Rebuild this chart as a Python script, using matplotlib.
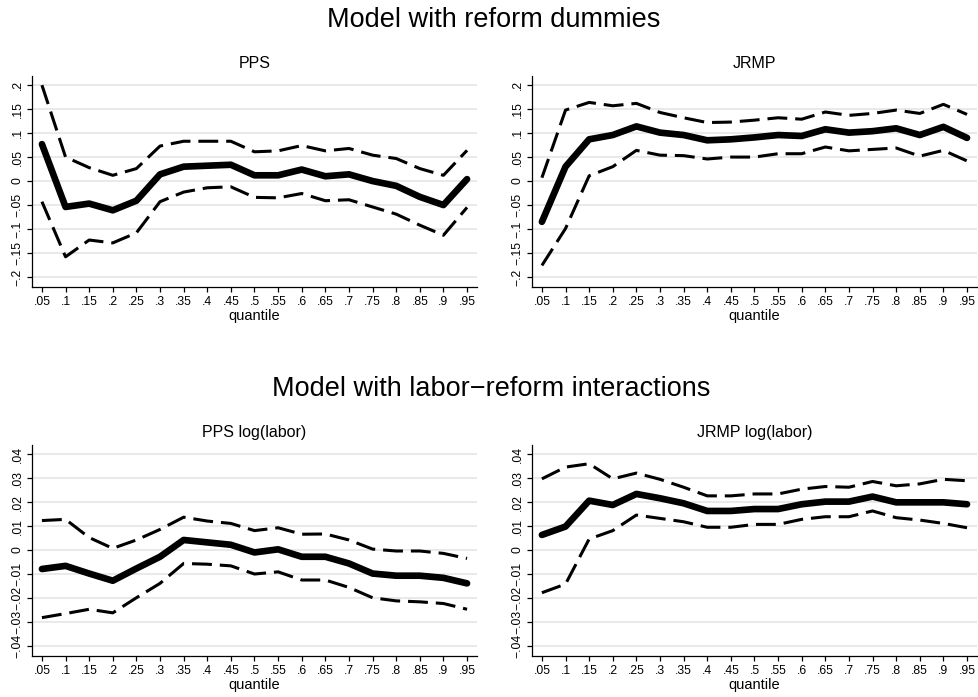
import matplotlib.pyplot as plt
from matplotlib.ticker import FuncFormatter

plt.rcParams['font.family'] = ['Liberation Sans', 'DejaVu Sans']

quantiles = [.05, .10, .15, .20, .25, .30, .35, .40, .45, .50,
             .55, .60, .65, .70, .75, .80, .85, .90, .95]
xtick_labels = ['.05', '.1', '.15', '.2', '.25', '.3', '.35', '.4', '.45', '.5',
                '.55', '.6', '.65', '.7', '.75', '.8', '.85', '.9', '.95']

# reform dummies: coefficient, upper and lower 95% bounds
pps_coef = [0.077, -0.054, -0.047, -0.061, -0.041, 0.014, 0.030, 0.032, 0.034, 0.012,
            0.012, 0.024, 0.010, 0.014, 0.000, -0.010, -0.033, -0.050, 0.004]
pps_hi = [0.200, 0.050, 0.028, 0.012, 0.026, 0.073, 0.083, 0.083, 0.083, 0.061,
          0.063, 0.074, 0.063, 0.068, 0.054, 0.047, 0.026, 0.012, 0.064]
pps_lo = [-0.043, -0.158, -0.123, -0.129, -0.108, -0.043, -0.023, -0.014, -0.012, -0.034,
          -0.035, -0.026, -0.041, -0.039, -0.054, -0.069, -0.092, -0.113, -0.055]

jrmp_coef = [-0.085, 0.030, 0.087, 0.096, 0.114, 0.101, 0.096, 0.085, 0.087, 0.091,
             0.096, 0.094, 0.108, 0.101, 0.104, 0.110, 0.096, 0.113, 0.090]
jrmp_hi = [0.007, 0.148, 0.164, 0.157, 0.162, 0.143, 0.132, 0.122, 0.123, 0.127,
           0.132, 0.129, 0.144, 0.137, 0.141, 0.148, 0.141, 0.160, 0.139]
jrmp_lo = [-0.176, -0.099, 0.011, 0.030, 0.064, 0.054, 0.053, 0.046, 0.050, 0.050,
           0.057, 0.057, 0.071, 0.063, 0.066, 0.069, 0.052, 0.064, 0.042]

# labor-reform interactions
ppsl_coef = [-0.0079, -0.0066, -0.0098, -0.0128, -0.0077, -0.0028, 0.0042, 0.0032, 0.0022, -0.0010,
             0.0003, -0.0028, -0.0028, -0.0056, -0.0098, -0.0107, -0.0107, -0.0116, -0.0139]
ppsl_hi = [0.0123, 0.0128, 0.0052, 0.0007, 0.0042, 0.0086, 0.0137, 0.0121, 0.0111, 0.0081,
           0.0093, 0.0066, 0.0067, 0.0042, 0.0004, -0.0004, -0.0004, -0.0014, -0.0035]
ppsl_lo = [-0.0282, -0.0265, -0.0247, -0.0262, -0.0199, -0.0139, -0.0056, -0.0059, -0.0066, -0.0100,
           -0.0091, -0.0125, -0.0125, -0.0156, -0.0199, -0.0212, -0.0216, -0.0223, -0.0247]

jrmpl_coef = [0.0063, 0.0098, 0.0206, 0.0188, 0.0234, 0.0216, 0.0195, 0.0163, 0.0163, 0.0171,
              0.0171, 0.0191, 0.0202, 0.0202, 0.0223, 0.0199, 0.0199, 0.0199, 0.0191]
jrmpl_hi = [0.0297, 0.0346, 0.0360, 0.0297, 0.0321, 0.0295, 0.0262, 0.0226, 0.0226, 0.0234,
            0.0234, 0.0254, 0.0265, 0.0262, 0.0286, 0.0268, 0.0276, 0.0295, 0.0289]
jrmpl_lo = [-0.0178, -0.0142, 0.0046, 0.0081, 0.0146, 0.0132, 0.0118, 0.0095, 0.0095, 0.0107,
            0.0107, 0.0128, 0.0139, 0.0139, 0.0163, 0.0135, 0.0125, 0.0111, 0.0093]

ticks_top = [-0.2, -0.15, -0.1, -0.05, 0, 0.05, 0.1, 0.15, 0.2]
ticks_bot = [-0.04, -0.03, -0.02, -0.01, 0, 0.01, 0.02, 0.03, 0.04]


def stata_fmt(v, pos):
    if abs(v) < 1e-12:
        return '0'
    s = ('%.2f' % abs(v)).rstrip('0').lstrip('0')
    return ('\u2212' if v < 0 else '') + s


def panel(ax, title, coef, hi, lo, yticks, ylim):
    ax.plot(quantiles, coef, color='black', lw=4.8, solid_capstyle='round', zorder=3)
    for s in (hi, lo):
        ax.plot(quantiles, s, color='black', lw=2.2, linestyle=(0, (6.5, 2.6)), zorder=3)
    ax.set_xlim(0.029, 0.971)
    ax.set_ylim(*ylim)
    ax.set_xticks(quantiles)
    ax.set_xticklabels(xtick_labels)
    ax.set_yticks(yticks)
    ax.yaxis.set_major_formatter(FuncFormatter(stata_fmt))
    for lab in ax.get_yticklabels():
        lab.set_rotation(90)
        lab.set_va('center')
    ax.grid(axis='y', color='#e3e3e3', lw=1.1)
    ax.set_axisbelow(True)
    for side in ('top', 'right'):
        ax.spines[side].set_visible(False)
    ax.spines['left'].set_linewidth(0.9)
    ax.spines['bottom'].set_linewidth(0.9)
    ax.tick_params(axis='both', length=3.5, width=0.9, labelsize=8.7, pad=3)
    ax.tick_params(axis='y', pad=2.5)
    ax.set_title(title, fontsize=11.5, pad=6)
    ax.set_xlabel('quantile', fontsize=10.5, labelpad=1)


fig = plt.figure(figsize=(9.79, 6.97), dpi=100)
w, h = 0.4545, 0.3027
ax1 = fig.add_axes([0.0327, 0.5882, w, h])
ax2 = fig.add_axes([0.5434, 0.5882, w, h])
ax3 = fig.add_axes([0.0327, 0.0588, w, h])
ax4 = fig.add_axes([0.5434, 0.0588, w, h])

panel(ax1, 'PPS', pps_coef, pps_hi, pps_lo, ticks_top, (-0.221, 0.219))
panel(ax2, 'JRMP', jrmp_coef, jrmp_hi, jrmp_lo, ticks_top, (-0.221, 0.219))
panel(ax3, 'PPS log(labor)', ppsl_coef, ppsl_hi, ppsl_lo, ticks_bot, (-0.0442, 0.0438))
panel(ax4, 'JRMP log(labor)', jrmpl_coef, jrmpl_hi, jrmpl_lo, ticks_bot, (-0.0442, 0.0438))

fig.text(0.5046, 1 - 27 / 697, 'Model with reform dummies', ha='center', va='baseline', fontsize=19.5)
fig.text(0.502, 1 - 396 / 697, 'Model with labor\u2212reform interactions', ha='center', va='baseline',
         fontsize=19.5)

fig.savefig('out.png', dpi=100, facecolor='white')
